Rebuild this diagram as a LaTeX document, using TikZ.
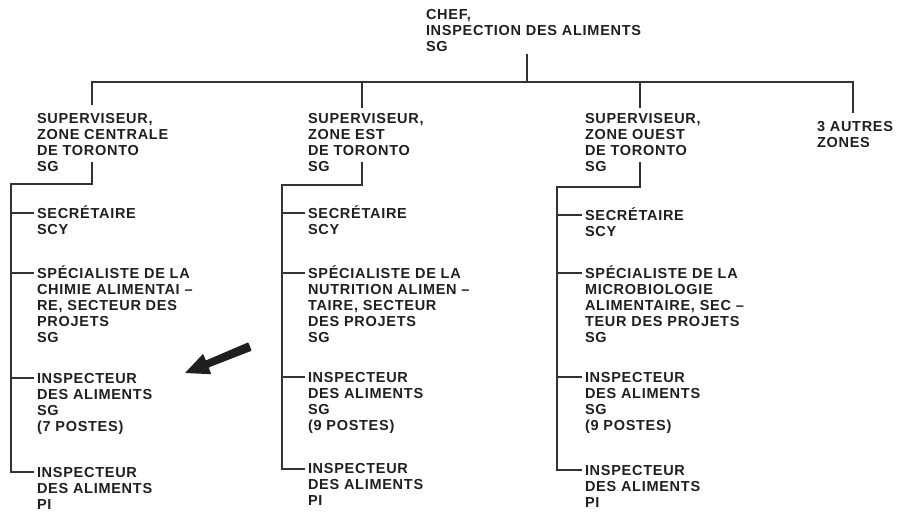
\documentclass[tikz,border=0pt]{standalone}
\usepackage{fontspec}
\setmainfont{Liberation Sans}[LetterSpace=5]
\definecolor{ink}{HTML}{1F1F1F}
\definecolor{wire}{HTML}{333333}
\newcommand\fl{\rule{0pt}{14pt}}
\tikzset{
  lbl/.style={anchor=north west, inner sep=0pt, outer xsep=4pt, outer ysep=0pt,
    align=left, text=ink, font=\fontsize{14.5}{16}\selectfont\bfseries},
  wireline/.style={draw=wire, line width=1.7pt, line cap=rect, line join=miter}
}
\begin{document}
\begin{tikzpicture}[x=1pt,y=-1pt]
\useasboundingbox (0,0) rectangle (900,514);
% top
\node[lbl] (chef) at (422,5) {\fl CHEF,\\INSPECTION DES ALIMENTS\\SG};
\coordinate (chefd) at (527,55);
\coordinate (barL) at (92,82);
\coordinate (barR) at (853,82);
% supervisors
\node[lbl] (sup1) at (33,109) {\fl SUPERVISEUR,\\ZONE CENTRALE\\DE TORONTO\\SG};
\node[lbl] (sup2) at (304,109) {\fl SUPERVISEUR,\\ZONE EST\\DE TORONTO\\SG};
\node[lbl] (sup3) at (581,109) {\fl SUPERVISEUR,\\ZONE OUEST\\DE TORONTO\\SG};
\node[lbl] (autres) at (813,117) {\fl 3 AUTRES\\ZONES};
\coordinate (d1) at (92,104);
\coordinate (d2) at (362,107);
\coordinate (d3) at (640,107);
\coordinate (d4) at (853,112);
\draw[wireline] (chefd) -- (chefd |- barL);
\draw[wireline] (barL) -- (barR);
\draw[wireline] (barL) -- (d1);
\draw[wireline] (d2 |- barL) -- (d2);
\draw[wireline] (d3 |- barL) -- (d3);
\draw[wireline] (barR) -- (d4);
% column 1
\node[lbl] (c1a) at (33,204) {\fl SECRÉTAIRE\\SCY};
\node[lbl] (c1b) at (33,264) {\fl SPÉCIALISTE DE LA\\CHIMIE ALIMENTAI –\\RE, SECTEUR DES\\PROJETS\\SG};
\node[lbl] (c1c) at (33,369) {\fl INSPECTEUR\\DES ALIMENTS\\SG\\(7 POSTES)};
\node[lbl] (c1d) at (33,463) {\fl INSPECTEUR\\DES ALIMENTS\\PI};
\coordinate (s1) at (92,163);
\coordinate (h1) at (92,184);
\coordinate (t1) at (11,184);
\coordinate (b1a) at (11,213);
\coordinate (b1b) at (11,273);
\coordinate (b1c) at (11,378);
\coordinate (b1d) at (11,472);
\draw[wireline] (s1) -- (h1) -- (t1) -- (b1d) -- (b1d -| c1d.west);
\draw[wireline] (b1a) -- (b1a -| c1a.west);
\draw[wireline] (b1b) -- (b1b -| c1b.west);
\draw[wireline] (b1c) -- (b1c -| c1c.west);
% column 2
\node[lbl] (c2a) at (304,204) {\fl SECRÉTAIRE\\SCY};
\node[lbl] (c2b) at (304,264) {\fl SPÉCIALISTE DE LA\\NUTRITION ALIMEN –\\TAIRE, SECTEUR\\DES PROJETS\\SG};
\node[lbl] (c2c) at (304,368) {\fl INSPECTEUR\\DES ALIMENTS\\SG\\(9 POSTES)};
\node[lbl] (c2d) at (304,459) {\fl INSPECTEUR\\DES ALIMENTS\\PI};
\coordinate (s2) at (362,163);
\coordinate (h2) at (362,185);
\coordinate (t2) at (282,185);
\coordinate (b2a) at (282,213);
\coordinate (b2b) at (282,273);
\coordinate (b2c) at (282,377);
\coordinate (b2d) at (282,469);
\draw[wireline] (s2) -- (h2) -- (t2) -- (b2d) -- (b2d -| c2d.west);
\draw[wireline] (b2a) -- (b2a -| c2a.west);
\draw[wireline] (b2b) -- (b2b -| c2b.west);
\draw[wireline] (b2c) -- (b2c -| c2c.west);
% column 3
\node[lbl] (c3a) at (581,206) {\fl SECRÉTAIRE\\SCY};
\node[lbl] (c3b) at (581,264) {\fl SPÉCIALISTE DE LA\\MICROBIOLOGIE\\ALIMENTAIRE, SEC –\\TEUR DES PROJETS\\SG};
\node[lbl] (c3c) at (581,368) {\fl INSPECTEUR\\DES ALIMENTS\\SG\\(9 POSTES)};
\node[lbl] (c3d) at (581,461) {\fl INSPECTEUR\\DES ALIMENTS\\PI};
\coordinate (s3) at (640,163);
\coordinate (h3) at (640,187);
\coordinate (t3) at (557,187);
\coordinate (b3a) at (557,215);
\coordinate (b3b) at (557,273);
\coordinate (b3c) at (557,377);
\coordinate (b3d) at (557,470);
\draw[wireline] (s3) -- (h3) -- (t3) -- (b3d) -- (b3d -| c3d.west);
\draw[wireline] (b3a) -- (b3a -| c3a.west);
\draw[wireline] (b3b) -- (b3b -| c3b.west);
\draw[wireline] (b3c) -- (b3c -| c3c.west);
% pointer arrow
\fill[ink, rounded corners=0.8pt] (251.7,350.7) -- (208.6,367.5) -- (211.3,374.2) -- (185,373) -- (203.1,353.8) -- (205.8,360.5) -- (248.3,342.3) -- cycle;
\end{tikzpicture}
\end{document}
